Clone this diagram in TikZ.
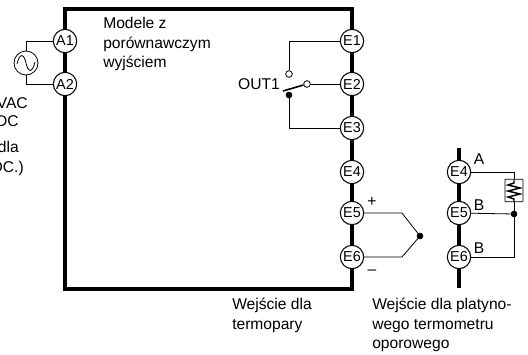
\documentclass[tikz,border=0pt]{standalone}
\usepackage{fontspec}
\setmainfont{Liberation Sans}
\tikzset{
  term/.style={draw, circle, fill=white, thick, inner sep=0pt, minimum size=17.5pt, font=\fontsize{10.8}{12}\selectfont},
  lab/.style={align=left, anchor=north west, inner sep=0pt, font=\fontsize{11.7}{14.6}\selectfont},
  mark text/.style={inner sep=0pt, font=\fontsize{11.7}{14}\selectfont},
  wire/.style={line width=0.6pt},
  bar/.style={line width=2.6pt},
  opendot/.style={draw, circle, fill=white, line width=0.6pt, inner sep=0pt, minimum size=5pt},
  blackdot/.style={draw, circle, fill=black, inner sep=0pt, minimum size=4.5pt}
}
\begin{document}
\begin{tikzpicture}[x=0.75pt, y=-0.75pt]
            \useasboundingbox (0,0) rectangle (528,354);
            \draw [bar] (65,289) -- (65,9) -- (352,9) -- (352,289) -- cycle;  %Gehaeuse
            \draw [bar] (459,148) -- (459,288);         %Leiste
            \node [term] (A1) at (65,41) {A1};
            \node [term] (A2) at (65,84) {A2};
            \node [term] (E1) at (352,41) {E1};
            \node [term] (E2) at (352,84) {E2};
            \node [term] (E3) at (352,128) {E3};
            \node [term] (E4) at (352,172) {E4};
            \node [term] (E5) at (352,213) {E5};
            \node [term] (E6) at (352,257) {E6};
            \node [term] (F4) at (459,172) {E4};
            \node [term] (F5) at (459,213) {E5};
            \node [term] (F6) at (459,257) {E6};
            %Quelle
            \node [draw, circle, wire, minimum size=18pt, inner sep=0pt] (src) at (26,63) {};
            \draw [wire] (src.north) |- (A1);
            \draw [wire] (src.south) |- (A2);
            \draw [wire] (17,64) .. controls (20,52) and (24,54) .. (26,63) .. controls (28,72) and (32,74) .. (35,62);
            %Schalter
            \node [opendot] (nc) at (289,74) {};
            \node [opendot] (com) at (307,84) {};
            \node [blackdot] (no) at (289,95) {};
            \coordinate (tip) at (283,91);
            \draw [wire] (E1) -| (nc);
            \draw [wire] (E2) -- (com);
            \draw [wire] (E3) -| (no);
            \draw [line width=1.2pt] (tip) -- (com);
            \node [mark text] (out) at (259,84) {OUT1};
            %Thermoelement
            \coordinate (k5) at (402,213);
            \coordinate (k6) at (402,257);
            \node [blackdot] (hot) at (420,236) {};
            \draw [wire] (E5) -- (k5) -- (hot);
            \draw [wire] (E6) -- (k6) -- (hot);
            \node [mark text] (plus) at (372,202) {+};
            \node [mark text] (minus) at (372,272) {--};
            %Widerstand
            \node [draw, wire, rounded corners=0.5pt, minimum width=13.5pt, minimum height=17pt, inner sep=0pt] (res) at (514,190.5) {};
            \node [blackdot] (join) at (514,214) {};
            \coordinate (c4) at (514,172);
            \coordinate (c6) at (514,257);
            \draw [wire] (F4) -- (c4) -- (res);
            \draw [wire] (res) -- (join);
            \draw [wire] (F5) -- (join);
            \draw [wire] (F6) -- (c6) -- (join);
            \draw [line width=1.1pt] (514,180) -- (514,183) -- (508,185) -- (520,188) -- (508,191) -- (520,194) -- (508,197) -- (514,199) -- (514,202);
            \node [mark text] (a) at (479,159) {A};
            \node [mark text] (b1) at (479,205) {B};
            \node [mark text] (b2) at (479,248) {B};
            %Texte
            \node [lab] (t1) at (103,17) {Modele z\\porównawczym\\wyjściem};
            \node [lab] (t2) at (232,298) {Wejście dla\\termopary};
            \node [lab] (t3) at (372,298) {Wejście dla platyno-\\wego termometru\\oporowego};
            \node [mark text, anchor=base east] (t4) at (28,108) {VAC};
            \node [mark text, anchor=base east] (t5) at (19,126) {DC};
            \node [mark text, anchor=base east] (t6) at (19,152) {dla};
            \node [mark text, anchor=base east] (t7) at (24,172) {DC.)};
        \end{tikzpicture}
\end{document}
